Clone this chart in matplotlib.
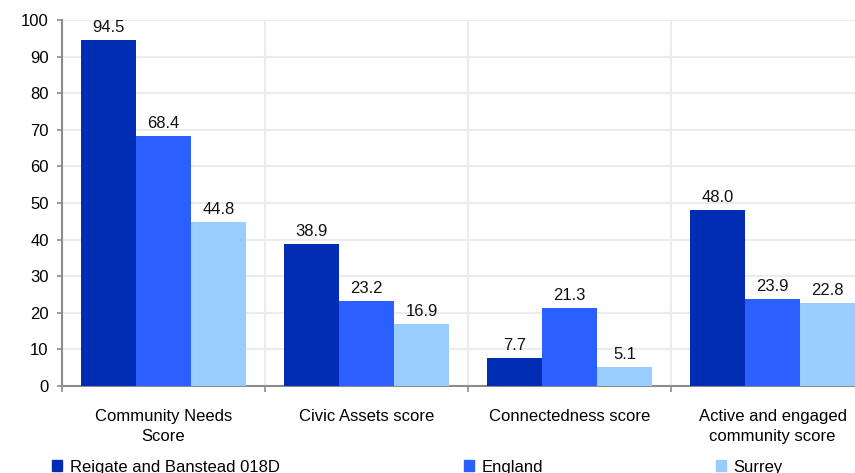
import matplotlib
matplotlib.use("Agg")
import numpy as np
import matplotlib.pyplot as plt
from matplotlib.patches import Patch

plt.rcParams['font.family'] = ['Liberation Sans', 'DejaVu Sans']
FS = 12

# ---------------------------------------------------------------------------
# Data
# ---------------------------------------------------------------------------
categories = ["Community Needs\nScore", "Civic Assets score",
              "Connectedness score", "Active and engaged\ncommunity score"]
series_names = ["Reigate and Banstead 018D", "England", "Surrey"]
reigate = [94.5, 38.9, 7.7, 48.0]
england = [68.4, 23.2, 21.3, 23.9]
surrey = [44.8, 16.9, 5.1, 22.8]

C_DARK = "#002DB3"
C_MID = "#2B5FFF"
C_LIGHT = "#99CCFF"
GRID = "#ececec"
AXIS = "#8c8c8c"

fig = plt.figure(figsize=(8.55, 4.73), dpi=100)
ax = fig.add_axes([62 / 855, 87 / 473, 1 - 62 / 855, (386 - 20) / 473])

x = np.arange(len(categories))
w = 55 / 203
colors = [C_DARK, C_MID, C_LIGHT]
for i, (vals, col) in enumerate(zip([reigate, england, surrey], colors)):
    bars = ax.bar(x + (i - 1) * w, vals, width=w, color=col, zorder=3)
    ax.bar_label(bars, fmt="%.1f", padding=3.5, fontsize=FS, color="#111111")

ax.set_yticks(np.arange(0, 101, 10))

# category labels at centres, ticks at boundaries
ax.set_xticks(x)
ax.set_xticklabels(categories, fontsize=FS, linespacing=1.45)
ax.tick_params(axis="x", which="major", length=0, pad=16.5)
ax.set_xticks(np.arange(-0.5, len(categories), 1.0), minor=True)
ax.tick_params(axis="x", which="minor", length=4, color=AXIS, width=1.2)
ax.tick_params(axis="y", length=3.6, color=AXIS, width=1.2, labelsize=FS, pad=6)

# limits after the ticks, so the ticks do not widen the view
ax.set_ylim(0, 100)
ax.set_xlim(-0.5, -0.5 + 793 / 203)

ax.grid(axis="y", color=GRID, linewidth=1.5, zorder=0)
ax.grid(axis="x", which="minor", color=GRID, linewidth=1.5, zorder=0)
ax.grid(axis="x", which="major", visible=False)

for s in ["top", "right"]:
    ax.spines[s].set_visible(False)
for s in ["left", "bottom"]:
    ax.spines[s].set_color(AXIS)
    ax.spines[s].set_linewidth(1.5)

# legend entries at fixed spots along the bottom
for name, col, px in zip(series_names, colors, [52, 464, 716]):
    fig.legend(handles=[Patch(color=col, label=name)], loc="center left",
               bbox_to_anchor=(px / 855, 6 / 473), frameon=False, fontsize=FS,
               borderpad=0, borderaxespad=0, handlelength=0.6,
               handleheight=0.6, handletextpad=0.45)

fig.savefig("out.png", dpi=100)
